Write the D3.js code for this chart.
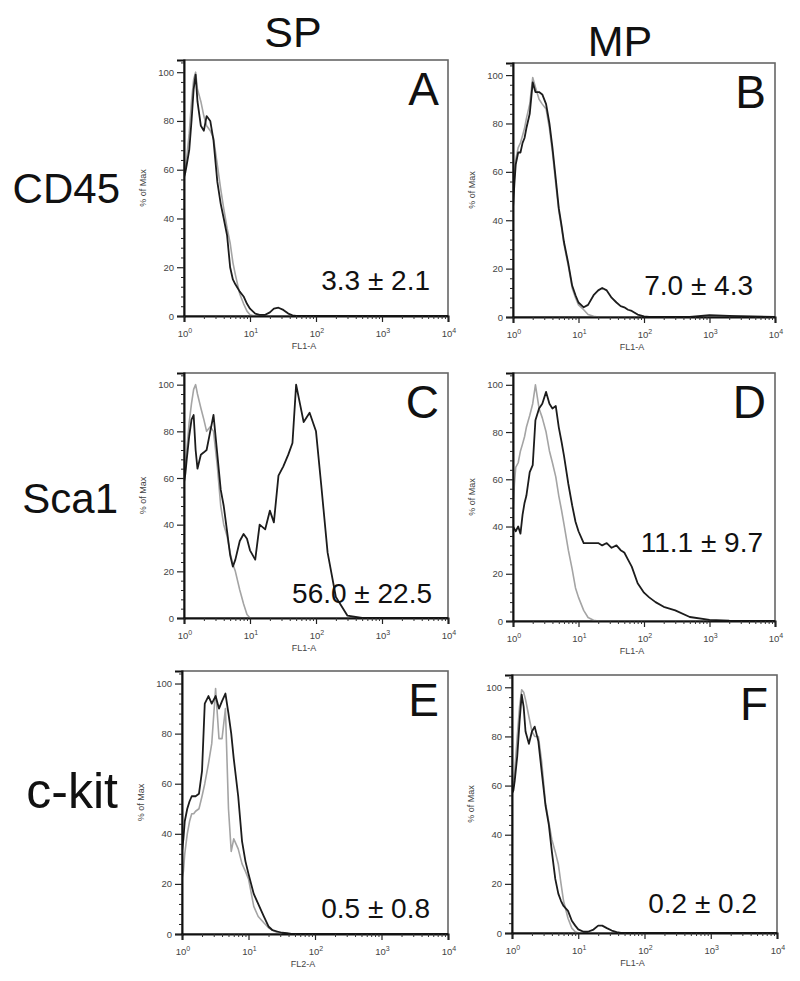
<!DOCTYPE html>
<html><head><meta charset="utf-8">
<script src="https://cdn.jsdelivr.net/npm/d3@7"></script>
<style>body{margin:0;background:#fff} svg{display:block}</style>
</head><body>
<svg id="c" width="800" height="981"></svg>
<script>
// ---------------- data ----------------
const columns = ["SP", "MP"];
const rows = ["CD45", "Sca1", "c-kit"];
const panelLetters = ["A", "B", "C", "D", "E", "F"];
const statLabels = ["3.3 \u00b1 2.1", "7.0 \u00b1 4.3", "56.0 \u00b1 22.5", "11.1 \u00b1 9.7", "0.5 \u00b1 0.8", "0.2 \u00b1 0.2"];
const xAxisLabels = ["FL1-A", "FL1-A", "FL1-A", "FL1-A", "FL2-A", "FL1-A"];
const yAxisLabel = "% of Max";
const xTickValues = [1, 10, 100, 1000, 10000];
const xTickExponents = ["0", "1", "2", "3", "4"];
const yTickValues = [0, 20, 40, 60, 80, 100];

// fluorescence channel grid shared by all histograms
const fl = [1, 1.05, 1.1, 1.2, 1.3, 1.4, 1.5, 1.6, 1.8, 2, 2.2, 2.5, 2.8, 3.2, 3.6, 4, 4.5, 5, 5.5, 6,
            7, 8, 9, 10, 12, 14, 17, 20, 23, 27, 32, 38, 44, 50, 57, 65, 80, 100, 120, 150,
            200, 300, 500, 1000, 2000, 10000];

// % of Max; "stained" = black curve, "control" = gray curve
const stainedA = [57, 59, 62, 68, 80, 93, 99, 88, 78, 76, 82, 80, 72, 55, 46, 40, 33, 20, 15, 13,
                  10, 8, 5, 3, 1, 0.5, 0.5, 1.5, 3, 3.4, 2.5, 1, 0.3, 0, 0, 0, 0, 0, 0, 0,
                  0, 0, 0, 0, 0, 0];
const controlA = [56, 60, 65, 75, 88, 97, 100, 93, 88, 82, 78, 76, 73, 62, 52, 44, 36, 30, 22, 17,
                  9, 5, 2, 0.5, 0, 0, 0, 0, 0, 0, 0, 0, 0, 0, 0, 0, 0, 0, 0, 0,
                  0, 0, 0, 0, 0, 0];
const stainedB = [45, 55, 63, 68, 68, 72, 74, 78, 84, 97, 93, 93, 92, 88, 80, 70, 57, 45, 38, 31,
                  22, 13, 9, 6, 4, 5, 9, 11, 12, 11, 8, 6, 4.5, 4, 3, 2.5, 1, 0.3, 0, 0,
                  0, 0, 0, 0.8, 0.5, 0];
const controlB = [50, 58, 65, 70, 72, 75, 78, 82, 88, 99, 95, 90, 88, 86, 78, 68, 55, 44, 37, 30,
                  21, 12, 8, 5, 3, 1, 0.3, 0, 0, 0, 0, 0, 0, 0, 0, 0, 0, 0, 0, 0,
                  0, 0, 0, 0, 0, 0];
const stainedC = [58, 62, 68, 78, 85, 87, 72, 64, 70, 71, 72, 80, 87, 70, 55, 48, 37, 27, 22, 25,
                  33, 36, 34, 29, 25, 40, 38, 46, 41, 61, 65, 70, 75, 100, 92, 84, 88, 80, 57, 28,
                  9, 1, 0, 0, 0, 0];
const controlC = [58, 64, 72, 84, 92, 98, 100, 96, 90, 85, 80, 82, 80, 65, 48, 40, 35, 28, 23, 20,
                  12, 6, 1.5, 0, 0, 0, 0, 0, 0, 0, 0, 0, 0, 0, 0, 0, 0, 0, 0, 0,
                  0, 0, 0, 0, 0, 0];
const stainedD = [40, 39, 38, 40, 37, 45, 50, 53, 63, 66, 85, 90, 92, 97, 92, 90, 91, 82, 76, 70,
                  58, 49, 42, 38, 33, 33, 33, 33, 32, 33, 31, 32, 30, 29, 26, 23, 16, 12, 10, 8,
                  6, 4.5, 1.7, 0.5, 0.2, 0];
const controlD = [45, 58, 65, 67, 72, 75, 78, 82, 87, 92, 100, 90, 86, 80, 72, 67, 61, 53, 47, 41,
                  30, 22, 14, 10, 4.5, 1.5, 0.3, 0, 0, 0, 0, 0, 0, 0, 0, 0, 0, 0, 0, 0,
                  0, 0, 0, 0, 0, 0];
const stainedE = [33, 38, 45, 50, 53, 55, 55, 55, 56, 65, 92, 95, 92, 95, 90, 93, 96, 88, 80, 70,
                  55, 37, 29, 24, 16, 12, 7, 3, 1.5, 1, 0.5, 0.3, 0, 0, 0, 0, 0, 0, 0, 0,
                  0, 0, 0, 0, 0, 0];
const controlE = [22, 25, 32, 40, 45, 48, 48, 49, 50, 55, 60, 68, 76, 98, 78, 78, 90, 50, 33, 38,
                  34, 28, 25, 22, 11, 7, 4.5, 2.5, 1.5, 0.6, 0.3, 0, 0, 0, 0, 0, 0, 0, 0, 0,
                  0, 0, 0, 0, 0, 0];
const stainedF = [57, 58, 62, 72, 86, 97, 92, 82, 77, 82, 84, 78, 66, 52, 44, 33, 22, 16, 13, 11,
                  9, 5, 3, 1.5, 0.5, 0.5, 1.4, 3, 3, 2, 1, 0.4, 0, 0, 0, 0, 0, 0, 0, 0,
                  0, 0, 0, 0, 0, 0];
const controlF = [56, 60, 66, 80, 92, 99, 98, 95, 88, 82, 80, 80, 70, 53, 45, 38, 33, 28, 20, 13,
                  6, 2, 0.5, 0, 0, 0, 0, 0, 0, 0, 0, 0, 0, 0, 0, 0, 0, 0, 0, 0,
                  0, 0, 0, 0, 0, 0];

const stained = [stainedA, stainedB, stainedC, stainedD, stainedE, stainedF];
const control = [controlA, controlB, controlC, controlD, controlE, controlF];

// ---------------- layout ----------------
const FONT = "'Liberation Sans', Arial, Helvetica, sans-serif";
const boxes = [
  {l: 184, r: 448, t: 60,  b: 316},
  {l: 513, r: 775, t: 63,  b: 317},
  {l: 184, r: 448, t: 373, b: 618},
  {l: 513, r: 775, t: 373, b: 621},
  {l: 182, r: 448, t: 671, b: 934},
  {l: 512, r: 777, t: 675, b: 933}
];
const statOffsets = [[-18, -26], [-22, -22], [-16, -15], [-12, -69], [-18, -16], [-20, -20]];
const colHeaderPos = [[293, 47], [620, 56]];
const rowLabelPos = [[120, 203], [118, 513], [118, 808]];
const rowLabelSize = [42, 42, 50];

const svg = d3.select("#c");
svg.append("rect").attr("width", 800).attr("height", 981).attr("fill", "#fff");

columns.forEach((c, i) => {
  svg.append("text").attr("x", colHeaderPos[i][0]).attr("y", colHeaderPos[i][1])
    .attr("text-anchor", "middle").attr("font-family", FONT).attr("font-size", 43)
    .attr("fill", "#111").text(c);
});
rows.forEach((r, i) => {
  svg.append("text").attr("x", rowLabelPos[i][0]).attr("y", rowLabelPos[i][1])
    .attr("text-anchor", "end").attr("font-family", FONT).attr("font-size", rowLabelSize[i])
    .attr("fill", "#111").text(r);
});

const minorY = d3.range(0, 105, 4).filter(v => v % 20 !== 0);
const minorX = [];
[1, 10, 100, 1000].forEach(d => [2, 3, 4, 5, 6, 7, 8, 9].forEach(m => minorX.push(m * d)));

boxes.forEach((bx, i) => {
  const x = d3.scaleLog().domain([1, 10000]).range([bx.l, bx.r]);
  const y = d3.scaleLinear().domain([0, 105]).range([bx.b, bx.t]);
  const g = svg.append("g");

  // frame
  g.append("rect").attr("x", bx.l).attr("y", bx.t).attr("width", bx.r - bx.l).attr("height", bx.b - bx.t)
    .attr("fill", "none").attr("stroke", "#666").attr("stroke-width", 1.6);

  const clipId = "clip" + i;
  g.append("clipPath").attr("id", clipId).append("rect")
    .attr("x", bx.l).attr("y", bx.t).attr("width", bx.r - bx.l).attr("height", bx.b - bx.t + 1);

  const line = d3.line().x((d, j) => x(fl[j])).y(d => y(d));
  g.append("path").datum(control[i]).attr("d", line).attr("fill", "none")
    .attr("stroke", "#a4a4a4").attr("stroke-width", 1.6).attr("stroke-linejoin", "round")
    .attr("clip-path", `url(#${clipId})`);
  g.append("path").datum(stained[i]).attr("d", line).attr("fill", "none")
    .attr("stroke", "#1c1c1c").attr("stroke-width", 1.8).attr("stroke-linejoin", "round")
    .attr("clip-path", `url(#${clipId})`);

  // y axis
  const ya = g.append("g").attr("transform", `translate(${bx.l},0)`)
    .call(d3.axisLeft(y).tickValues(yTickValues).tickSize(7).tickPadding(3));
  ya.select(".domain").attr("stroke", "#111").attr("stroke-width", 2);
  ya.selectAll(".tick line").attr("stroke", "#222").attr("stroke-width", 1.2);
  ya.selectAll("text").attr("font-family", FONT).attr("font-size", 9.5).attr("fill", "#444");
  const ym = g.append("g").attr("transform", `translate(${bx.l},0)`)
    .call(d3.axisLeft(y).tickValues(minorY).tickSize(3).tickFormat(""));
  ym.select(".domain").remove();
  ym.selectAll(".tick line").attr("stroke", "#222").attr("stroke-width", 1);

  // x axis
  const xa = g.append("g").attr("transform", `translate(0,${bx.b})`)
    .call(d3.axisBottom(x).tickValues(xTickValues).tickSize(6).tickFormat(""));
  xa.select(".domain").attr("stroke", "#111").attr("stroke-width", 2);
  xa.selectAll(".tick line").attr("stroke", "#222").attr("stroke-width", 1.2);
  const xm = g.append("g").attr("transform", `translate(0,${bx.b})`)
    .call(d3.axisBottom(x).tickValues(minorX).tickSize(3).tickFormat(""));
  xm.select(".domain").remove();
  xm.selectAll(".tick line").attr("stroke", "#333").attr("stroke-width", 1);

  xTickValues.forEach((v, k) => {
    const t = g.append("text").attr("x", x(v) + 1).attr("y", bx.b + 21).attr("text-anchor", "middle")
      .attr("font-family", FONT).attr("font-size", 9.5).attr("fill", "#444");
    t.append("tspan").text("10");
    t.append("tspan").attr("dy", -4).attr("font-size", 7).text(xTickExponents[k]);
  });

  g.append("text").attr("x", (bx.l + bx.r) / 2 - 12).attr("y", bx.b + 33).attr("text-anchor", "middle")
    .attr("font-family", FONT).attr("font-size", 9).attr("fill", "#444").text(xAxisLabels[i]);
  g.append("text").attr("transform", `translate(${bx.l - 38},${(bx.t + bx.b) / 2}) rotate(-90)`)
    .attr("text-anchor", "middle").attr("font-family", FONT).attr("font-size", 9).attr("fill", "#444")
    .text(yAxisLabel);

  // panel letter
  g.append("text").attr("x", bx.r - 9).attr("y", bx.t + 45).attr("text-anchor", "end")
    .attr("font-family", FONT).attr("font-size", 46).attr("fill", "#111").text(panelLetters[i]);
  // stat
  g.append("text").attr("x", bx.r + statOffsets[i][0]).attr("y", bx.b + statOffsets[i][1])
    .attr("text-anchor", "end").attr("font-family", FONT).attr("font-size", 28).attr("fill", "#111")
    .text(statLabels[i]);
});
</script>
</body></html>
